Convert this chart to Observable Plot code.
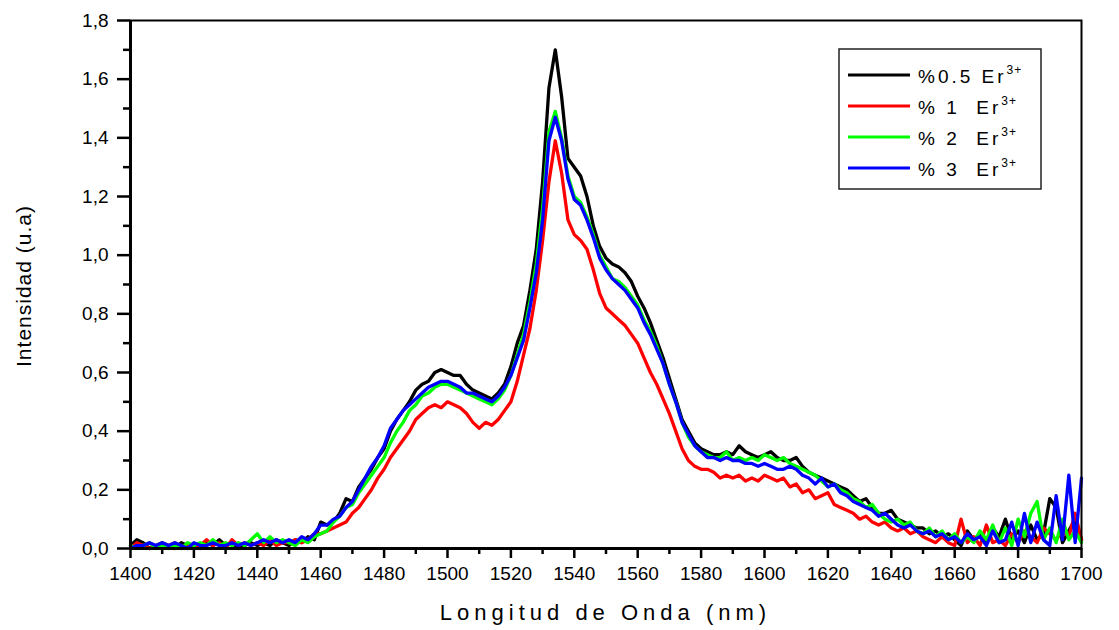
<!DOCTYPE html>
<html>
<head>
<meta charset="utf-8">
<script src="https://cdn.jsdelivr.net/npm/d3@7"></script>
<script src="https://cdn.jsdelivr.net/npm/@observablehq/plot@0.6"></script>
<style>
  html, body { margin: 0; padding: 0; background: #fff; }
  #chart svg { display: block; }
</style>
</head>
<body>
<div id="chart"></div>
<script>
// Wavelength grid (nm)
const wavelengths = d3.range(1400, 1701, 2);

// Series values (2 nm step)
const er05 = [
  0.01,0.03,0.02,0.00,0.01,0.02,0.01,0.00,0.02,0.01,
  0.01,0.00,0.02,0.01,0.03,0.01,0.02,0.00,0.01,0.02,
  0.01,0.02,0.01,0.03,0.02,0.01,0.03,0.02,0.04,0.03,
  0.09,0.08,0.09,0.12,0.17,0.16,0.21,0.24,0.27,0.31,
  0.34,0.40,0.44,0.47,0.50,0.54,0.56,0.57,0.60,0.61,
  0.60,0.59,0.59,0.56,0.54,0.53,0.52,0.51,0.53,0.56,
  0.62,0.70,0.76,0.88,1.02,1.25,1.57,1.70,1.54,1.33,
  1.30,1.27,1.20,1.10,1.03,0.99,0.97,0.96,0.94,0.91,
  0.86,0.82,0.77,0.71,0.65,0.58,0.51,0.44,0.40,0.36,
  0.34,0.33,0.32,0.32,0.33,0.32,0.35,0.33,0.32,0.31,
  0.32,0.33,0.31,0.30,0.30,0.31,0.28,0.26,0.25,0.24,
  0.23,0.22,0.21,0.20,0.18,0.16,0.17,0.14,0.12,0.12,
  0.13,0.10,0.09,0.08,0.07,0.07,0.05,0.06,0.04,0.05,
  0.03,0.01,0.06,0.03,0.05,0.02,0.07,0.04,0.10,0.03,
  0.06,0.02,0.08,0.03,0.05,0.17,0.14,0.02,0.06,0.10,
  0.03
];
const er1 = [
  0.00,0.02,0.01,0.00,0.01,0.00,0.01,0.02,0.00,0.01,
  0.00,0.01,0.03,0.01,0.02,0.00,0.03,0.01,0.02,0.01,
  0.02,0.01,0.03,0.01,0.02,0.02,0.03,0.02,0.03,0.05,
  0.05,0.06,0.07,0.08,0.09,0.12,0.14,0.17,0.20,0.24,
  0.27,0.31,0.34,0.37,0.40,0.44,0.46,0.48,0.49,0.48,
  0.50,0.49,0.48,0.46,0.43,0.41,0.43,0.42,0.44,0.47,
  0.50,0.57,0.66,0.75,0.88,1.05,1.25,1.39,1.28,1.12,
  1.07,1.05,1.02,0.95,0.87,0.82,0.80,0.78,0.76,0.73,
  0.70,0.65,0.60,0.56,0.51,0.46,0.40,0.34,0.30,0.28,
  0.27,0.27,0.26,0.24,0.25,0.24,0.25,0.23,0.24,0.23,
  0.25,0.24,0.23,0.24,0.21,0.22,0.19,0.20,0.17,0.18,
  0.19,0.15,0.14,0.13,0.12,0.10,0.11,0.09,0.08,0.09,
  0.07,0.06,0.07,0.05,0.06,0.04,0.03,0.02,0.04,0.02,
  0.01,0.10,0.02,0.04,0.01,0.08,0.02,0.03,0.01,0.05,
  0.02,0.06,0.04,0.02,0.07,0.05,0.03,0.06,0.04,0.12,
  0.03
];
const er2 = [
  0.01,0.00,0.01,0.02,0.00,0.01,0.00,0.01,0.00,0.02,
  0.01,0.02,0.01,0.03,0.01,0.02,0.01,0.02,0.01,0.03,
  0.05,0.02,0.04,0.02,0.03,0.02,0.01,0.03,0.02,0.04,
  0.05,0.06,0.09,0.11,0.14,0.15,0.19,0.22,0.25,0.28,
  0.31,0.36,0.40,0.43,0.47,0.49,0.52,0.53,0.55,0.56,
  0.56,0.55,0.54,0.53,0.52,0.51,0.50,0.49,0.51,0.54,
  0.59,0.66,0.73,0.84,0.97,1.16,1.42,1.49,1.40,1.27,
  1.20,1.18,1.13,1.07,1.00,0.96,0.92,0.91,0.89,0.86,
  0.83,0.78,0.74,0.69,0.63,0.56,0.50,0.43,0.38,0.35,
  0.33,0.32,0.31,0.31,0.33,0.30,0.31,0.30,0.31,0.30,
  0.32,0.31,0.30,0.31,0.29,0.28,0.27,0.26,0.25,0.23,
  0.21,0.22,0.20,0.19,0.17,0.16,0.14,0.15,0.12,0.10,
  0.09,0.10,0.08,0.09,0.06,0.05,0.07,0.04,0.06,0.03,
  0.05,0.02,0.04,0.02,0.06,0.03,0.08,0.02,0.07,0.01,
  0.10,0.04,0.12,0.16,0.03,0.07,0.02,0.10,0.03,0.06,
  0.02
];
const er3 = [
  0.00,0.01,0.01,0.02,0.01,0.02,0.01,0.02,0.01,0.00,
  0.02,0.01,0.01,0.02,0.01,0.01,0.02,0.01,0.02,0.01,
  0.02,0.03,0.02,0.03,0.02,0.03,0.02,0.04,0.03,0.05,
  0.08,0.08,0.10,0.11,0.14,0.16,0.20,0.24,0.28,0.31,
  0.35,0.41,0.44,0.47,0.49,0.51,0.53,0.55,0.56,0.57,
  0.57,0.56,0.55,0.53,0.53,0.52,0.51,0.50,0.52,0.55,
  0.59,0.65,0.71,0.82,0.94,1.12,1.39,1.47,1.39,1.26,
  1.19,1.17,1.12,1.06,0.99,0.95,0.92,0.90,0.88,0.85,
  0.82,0.77,0.73,0.68,0.63,0.56,0.50,0.43,0.39,0.35,
  0.33,0.31,0.31,0.30,0.31,0.30,0.30,0.29,0.29,0.28,
  0.29,0.28,0.27,0.27,0.28,0.27,0.25,0.24,0.22,0.24,
  0.21,0.22,0.19,0.18,0.16,0.15,0.14,0.13,0.11,0.12,
  0.10,0.08,0.07,0.08,0.06,0.05,0.06,0.04,0.05,0.03,
  0.04,0.02,0.05,0.03,0.04,0.01,0.06,0.02,0.03,0.09,
  0.01,0.12,0.02,0.09,0.03,0.01,0.18,0.03,0.25,0.02,
  0.24
];

const seriesLabels = ["0.5", "1", "2", "3"];
const seriesColors = ["#000000", "#ff0000", "#00ff00", "#0000ff"];
const seriesValues = [er05, er1, er2, er3];

const xTicks = [1400,1420,1440,1460,1480,1500,1520,1540,1560,1580,1600,1620,1640,1660,1680,1700];
const xMinorTicks = [1410,1430,1450,1470,1490,1510,1530,1550,1570,1590,1610,1630,1650,1670,1690];
const yTicks = [0,0.2,0.4,0.6,0.8,1.0,1.2,1.4,1.6,1.8];
const yMinorTicks = [0.1,0.3,0.5,0.7,0.9,1.1,1.3,1.5,1.7];

const xLabel = "Longitud de Onda (nm)";
const yLabel = "Intensidad (u.a)";

// Build tidy table
const rows = [];
seriesValues.forEach((vals, s) => {
  vals.forEach((v, i) => rows.push({series: seriesLabels[s], nm: wavelengths[i], value: v}));
});

const FONT = "'Liberation Sans', Arial, sans-serif";

const chart = Plot.plot({
  width: 1119,
  height: 630,
  marginLeft: 130,
  marginRight: 38,
  marginTop: 20,
  marginBottom: 82,
  style: {fontFamily: FONT, background: "#fff", color: "#000"},
  x: {domain: [1400, 1700]},
  y: {domain: [0, 1.8]},
  color: {domain: seriesLabels, range: seriesColors},
  marks: [
    Plot.line(rows, {x: "nm", y: "value", z: "series", stroke: "series", strokeWidth: 3.3, strokeLinejoin: "round"}),
    Plot.frame({stroke: "#000", strokeWidth: 2}),
    Plot.ruleX([1400], {stroke: "#000", strokeWidth: 3}),
    Plot.ruleY([0], {stroke: "#000", strokeWidth: 3}),
    Plot.axisY({ticks: yTicks, tickSize: 13, tickPadding: 9, strokeWidth: 2.5,
      tickFormat: d => d.toFixed(1).replace(".", ","), fontSize: 19, label: null,
      style: {letterSpacing: "3px"}}),
    Plot.axisY({ticks: yMinorTicks, tickSize: 7, strokeWidth: 2.5, tickFormat: () => "", label: null}),
    Plot.axisX({ticks: xTicks, tickSize: 10, tickPadding: 8, strokeWidth: 2.5,
      tickFormat: d => String(d), fontSize: 19, label: null,
      style: {letterSpacing: "4px"}}),
    Plot.axisX({ticks: xMinorTicks, tickSize: 6, strokeWidth: 2.5, tickFormat: () => "", label: null})
  ]
});

document.getElementById("chart").appendChild(chart);

const svg = d3.select(chart);

// Axis titles
svg.append("text")
  .attr("x", 605.5).attr("y", 620)
  .attr("text-anchor", "middle")
  .style("font-family", FONT).style("font-size", "22px").style("letter-spacing", "5px")
  .attr("fill", "#000")
  .text(xLabel);

svg.append("text")
  .attr("transform", "translate(31,286) rotate(-90)")
  .attr("text-anchor", "middle")
  .style("font-family", FONT).style("font-size", "21px").style("letter-spacing", "1px")
  .attr("fill", "#000")
  .text(yLabel);

// Legend
const NB = "\u00a0";
const lg = svg.append("g").attr("text-anchor", "start");
lg.append("rect")
  .attr("x", 839).attr("y", 49).attr("width", 202).attr("height", 140)
  .attr("fill", "#fff").attr("stroke", "#222").attr("stroke-width", 1.5);
seriesLabels.forEach((lab, i) => {
  const yy = 75 + i * 31;
  lg.append("line")
    .attr("x1", 848).attr("x2", 910).attr("y1", yy).attr("y2", yy)
    .attr("stroke", seriesColors[i]).attr("stroke-width", 3);
  const t = lg.append("text")
    .attr("x", 918).attr("y", yy + 7.5)
    .attr("text-anchor", "start")
    .style("font-family", FONT).style("font-size", "19px").style("letter-spacing", "3px")
    .attr("fill", "#000");
  t.append("tspan").text(i === 0 ? "%0.5" + NB + "Er" : "%" + NB + lab + NB + NB + "Er");
  t.append("tspan").attr("dy", -9).style("font-size", "12px").style("letter-spacing", "1px").text("3+");
});
</script>
</body>
</html>
